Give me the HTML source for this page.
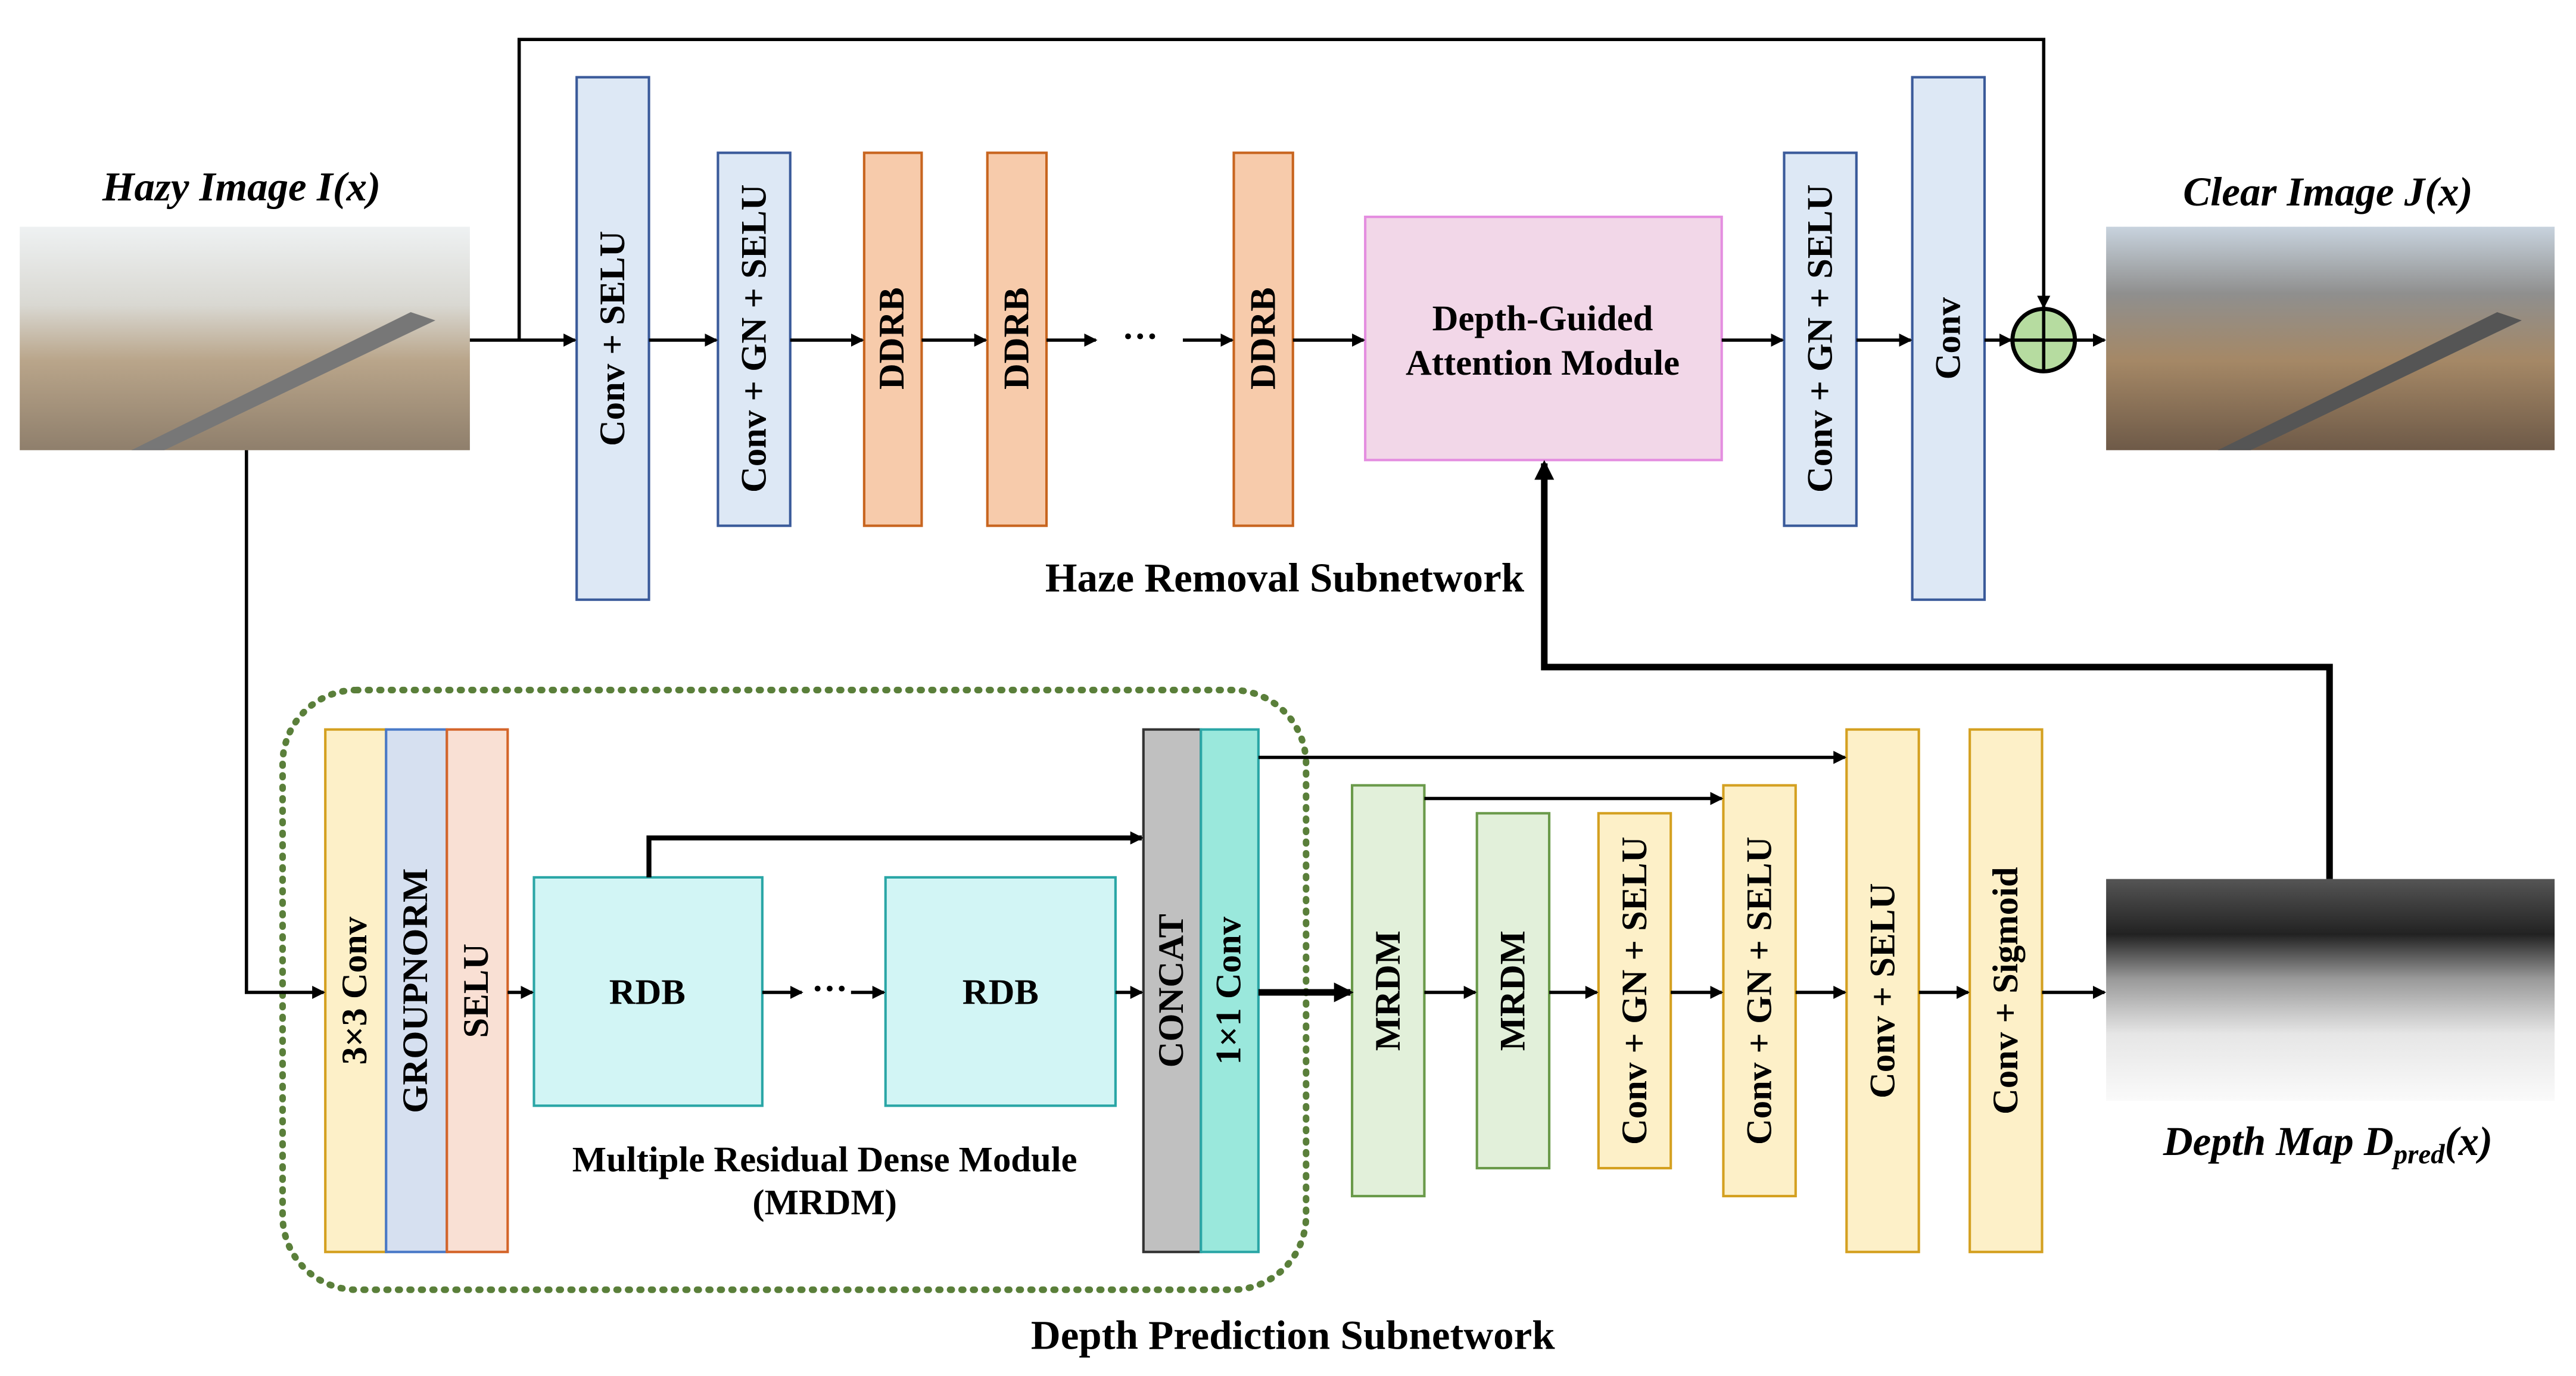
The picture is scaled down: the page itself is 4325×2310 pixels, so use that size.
<!DOCTYPE html>
<html><head><meta charset="utf-8"><style>html,body{margin:0;padding:0;background:#fff}svg{display:block}</style></head><body>
<svg width="4325" height="2310" viewBox="0 0 1568 837.5" xmlns="http://www.w3.org/2000/svg" font-family="Liberation Serif, serif" font-weight="bold">
<defs>
<marker id="a" markerWidth="8" markerHeight="8" refX="7" refY="4" orient="auto" markerUnits="userSpaceOnUse"><path d="M0,0 L8,4 L0,8 Z" fill="#000"/></marker>
<marker id="b" markerWidth="12" markerHeight="12" refX="10" refY="6" orient="auto" markerUnits="userSpaceOnUse"><path d="M0,0 L12,6 L0,12 Z" fill="#000"/></marker>
<linearGradient id="hz" x1="0" y1="0" x2="0" y2="1"><stop offset="0" stop-color="#eef1f2"/><stop offset="0.35" stop-color="#d9d8d2"/><stop offset="0.6" stop-color="#b9a58a"/><stop offset="1" stop-color="#8f7f6c"/></linearGradient>
<linearGradient id="cl" x1="0" y1="0" x2="0" y2="1"><stop offset="0" stop-color="#c8d3de"/><stop offset="0.3" stop-color="#8f8f8e"/><stop offset="0.6" stop-color="#a58866"/><stop offset="1" stop-color="#6e5a48"/></linearGradient>
<linearGradient id="dp" x1="0" y1="0" x2="0" y2="1"><stop offset="0" stop-color="#555"/><stop offset="0.25" stop-color="#222"/><stop offset="0.45" stop-color="#999"/><stop offset="0.7" stop-color="#e6e6e6"/><stop offset="1" stop-color="#fafafa"/></linearGradient>
</defs>
<g stroke="#000" stroke-width="2" fill="none">
<rect x="12" y="138" width="274" height="136" fill="url(#hz)" stroke="none"/>
<path d="M80,274 L250,190 L265,195 L100,274Z" fill="#777" stroke="none"/>
<rect x="1282" y="138" width="273" height="136" fill="url(#cl)" stroke="none"/>
<path d="M1350,274 L1520,190 L1535,195 L1370,274Z" fill="#555" stroke="none"/>
<rect x="1282" y="535" width="273" height="135" fill="url(#dp)" stroke="none"/>
</g>
<g stroke-width="1.5">
<rect x="351" y="47" width="44" height="318" fill="#dde8f5" stroke="#3a5a9a"/>
<rect x="437" y="93" width="44" height="227" fill="#dde8f5" stroke="#3a5a9a"/>
<rect x="526" y="93" width="35" height="227" fill="#f7cbab" stroke="#c8651f"/>
<rect x="601" y="93" width="36" height="227" fill="#f7cbab" stroke="#c8651f"/>
<rect x="751" y="93" width="36" height="227" fill="#f7cbab" stroke="#c8651f"/>
<rect x="831" y="132" width="217" height="148" fill="#f2d7e8" stroke="#e48ee0"/>
<rect x="1086" y="93" width="44" height="227" fill="#dde8f5" stroke="#3a5a9a"/>
<rect x="1164" y="47" width="44" height="318" fill="#dde8f5" stroke="#3a5a9a"/>
<circle cx="1244" cy="207" r="19" fill="#b6dca0" stroke="#000" stroke-width="2.5"/>
<path d="M1225,207H1263M1244,188V226" stroke="#000" stroke-width="2"/>
<rect x="172" y="420" width="623" height="365" rx="45" fill="none" stroke="#5a7f3a" stroke-width="4" stroke-dasharray="1 6" stroke-linecap="round"/>
<rect x="198" y="444" width="37" height="318" fill="#fdf0c8" stroke="#d4a020"/>
<rect x="235" y="444" width="37" height="318" fill="#d6e0f0" stroke="#4a7ac8"/>
<rect x="272" y="444" width="37" height="318" fill="#f9e0d4" stroke="#d4652a"/>
<rect x="325" y="534" width="139" height="139" fill="#d2f5f5" stroke="#2aa6a6"/>
<rect x="539" y="534" width="140" height="139" fill="#d2f5f5" stroke="#2aa6a6"/>
<rect x="696" y="444" width="35" height="318" fill="#c0c0c0" stroke="#333"/>
<rect x="731" y="444" width="35" height="318" fill="#9ae8dc" stroke="#2aa6a6"/>
<rect x="823" y="478" width="44" height="250" fill="#e2f0da" stroke="#6a9a4a"/>
<rect x="899" y="495" width="44" height="216" fill="#e2f0da" stroke="#6a9a4a"/>
<rect x="973" y="495" width="44" height="216" fill="#fdf0c8" stroke="#d4a020"/>
<rect x="1049" y="478" width="44" height="250" fill="#fdf0c8" stroke="#d4a020"/>
<rect x="1124" y="444" width="44" height="318" fill="#fdf0c8" stroke="#d4a020"/>
<rect x="1199" y="444" width="44" height="318" fill="#fdf0c8" stroke="#d4a020"/>
</g>
<g stroke="#000" stroke-width="2" fill="none" marker-end="url(#a)">
<path d="M286,207H350"/><path d="M316,207V24H1244V187"/>
<path d="M395,207H436"/><path d="M481,207H525"/><path d="M561,207H600"/><path d="M637,207H667"/>
<path d="M720,207H750"/><path d="M787,207H830"/><path d="M1048,207H1085"/><path d="M1130,207H1163"/><path d="M1208,207H1224"/><path d="M1263,207H1281"/>
<path d="M150,274V604H197"/><path d="M309,604H324"/><path d="M464,604H488"/><path d="M518,604H538"/><path d="M679,604H695"/>
<path d="M395,534V510H695" stroke-width="3"/>
<path d="M766,461H1123"/><path d="M867,486H1048"/>
<path d="M867,604H898"/><path d="M943,604H972"/><path d="M1017,604H1048"/><path d="M1093,604H1123"/><path d="M1168,604H1198"/><path d="M1243,604H1281"/>
</g>
<g stroke="#000" stroke-width="4" fill="none" marker-end="url(#b)">
<path d="M766,604H822"/>
<path d="M1418,535V406H940V282"/>
</g>
<g font-size="22" text-anchor="middle" fill="#000">
<text x="694" y="212">···</text><text x="505" y="609">···</text>
<text x="373" y="206" transform="rotate(-90 373 206)" dy="7">Conv + SELU</text>
<text x="459" y="206" transform="rotate(-90 459 206)" dy="7">Conv + GN + SELU</text>
<text x="543" y="206" transform="rotate(-90 543 206)" dy="7">DDRB</text>
<text x="619" y="206" transform="rotate(-90 619 206)" dy="7">DDRB</text>
<text x="769" y="206" transform="rotate(-90 769 206)" dy="7">DDRB</text>
<text x="1108" y="206" transform="rotate(-90 1108 206)" dy="7">Conv + GN + SELU</text>
<text x="1186" y="206" transform="rotate(-90 1186 206)" dy="7">Conv</text>
<text x="939" y="201">Depth-Guided</text><text x="939" y="228">Attention Module</text>
<text x="216" y="603" transform="rotate(-90 216 603)" dy="7">3×3 Conv</text>
<text x="253" y="603" transform="rotate(-90 253 603)" dy="7">GROUPNORM</text>
<text x="290" y="603" transform="rotate(-90 290 603)" dy="7">SELU</text>
<text x="394" y="611">RDB</text><text x="609" y="611">RDB</text>
<text x="713" y="603" transform="rotate(-90 713 603)" dy="7">CONCAT</text>
<text x="748" y="603" transform="rotate(-90 748 603)" dy="7">1×1 Conv</text>
<text x="845" y="603" transform="rotate(-90 845 603)" dy="7">MRDM</text>
<text x="921" y="603" transform="rotate(-90 921 603)" dy="7">MRDM</text>
<text x="995" y="603" transform="rotate(-90 995 603)" dy="7">Conv + GN + SELU</text>
<text x="1071" y="603" transform="rotate(-90 1071 603)" dy="7">Conv + GN + SELU</text>
<text x="1146" y="603" transform="rotate(-90 1146 603)" dy="7">Conv + SELU</text>
<text x="1221" y="603" transform="rotate(-90 1221 603)" dy="7">Conv + Sigmoid</text>
<text x="502" y="713">Multiple Residual Dense Module</text><text x="502" y="739">(MRDM)</text>
<text x="782" y="360" font-size="25">Haze Removal Subnetwork</text>
<text x="787" y="821" font-size="25">Depth Prediction Subnetwork</text>
<g font-style="italic" font-size="25">
<text x="147" y="122">Hazy Image I(x)</text>
<text x="1417" y="125">Clear Image J(x)</text>
<text x="1417" y="703">Depth Map D<tspan font-size="17" dy="5">pred</tspan><tspan dy="-5">(x)</tspan></text>
</g>
</g>
</svg>
</body></html>
